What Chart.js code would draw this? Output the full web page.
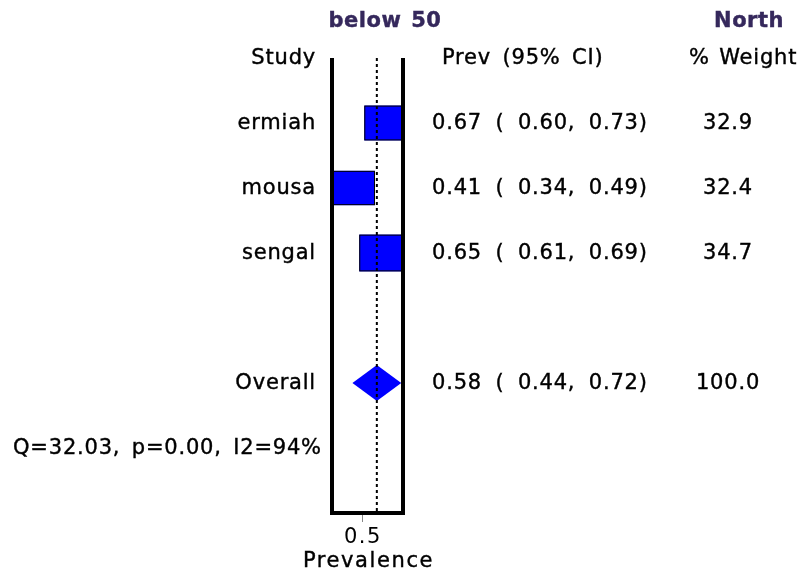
<!DOCTYPE html>
<html>
<head>
<meta charset="utf-8">
<title>below 50 - North</title>
<script src="https://cdn.jsdelivr.net/npm/chart.js@4.4.1/dist/chart.umd.min.js"></script>
<style>
  html, body { margin: 0; padding: 0; background: #fff; }
  #wrap { width: 806px; height: 572px; position: relative; }
</style>
</head>
<body>
<div id="wrap"><canvas id="forest"></canvas></div>
<script>
// /----------- data -----------/
const studies = ['ermiah', 'mousa', 'sengal'];
const prev = [0.67, 0.41, 0.65];
const lower = [0.60, 0.34, 0.61];
const upper = [0.73, 0.49, 0.69];
const weights = [32.9, 32.4, 34.7];
const studyRows = [1, 2, 3];

const overallLabel = 'Overall';
const overallPrev = 0.58;
const overallLower = 0.44;
const overallUpper = 0.72;
const overallWeight = 100.0;
const overallRow = 5;

const qStat = 32.03;
const pValue = 0.00;
const i2 = 94;

const xTicks = [0.5];
const xMin = 0.323;
const xMax = 0.73;
const xTitle = 'Prevalence';

// /----------- look -----------/
const FONT = '"DejaVu Sans"';
const BLUE = '#0000ff';
const HEAD_COLOR = '#35285c';
const fmt = v => v.toFixed(2);

function txt(ctx, s, x, y, align, font, color, ls, ws) {
    ctx.save();
    ctx.font = font;
    ctx.fillStyle = color || '#000';
    ctx.strokeStyle = color || '#000';
    ctx.lineWidth = 0.4;
    ctx.textAlign = align;
    ctx.textBaseline = 'alphabetic';
    ctx.letterSpacing = (ls === undefined ? 0.8 : ls) + 'px';
    ctx.wordSpacing = (ws === undefined ? 4 : ws) + 'px';
    ctx.fillText(s, x, y);
    ctx.strokeText(s, x, y);
    ctx.restore();
}

// /----------- boxes, whiskers, diamond, frame and columns -----------/
const forestMarks = {
    id: 'forestMarks',
    beforeDraw(chart) {
        chart.ctx.letterSpacing = '1.5px';
    },
    beforeDatasetsDraw(chart) {
        const { ctx, chartArea: a, scales: { x, y } } = chart;
        ctx.save();
        ctx.beginPath();
        ctx.rect(a.left, a.top, a.right - a.left, a.bottom - a.top);
        ctx.clip();

        ctx.strokeStyle = '#000';
        ctx.lineWidth = 1;
        studies.forEach((s, i) => {
            const yy = y.getPixelForValue(studyRows[i]);
            ctx.beginPath();
            ctx.moveTo(x.getPixelForValue(lower[i]), yy);
            ctx.lineTo(x.getPixelForValue(upper[i]), yy);
            ctx.stroke();
        });

        studies.forEach((s, i) => {
            const cx = x.getPixelForValue(prev[i]);
            const cy = y.getPixelForValue(studyRows[i]);
            const h = weights[i] * 1.06;
            const w = h * 1.62;
            ctx.fillStyle = BLUE;
            ctx.fillRect(cx - w / 2, cy - h / 2, w, h);
            ctx.strokeRect(cx - w / 2 + 0.5, cy - h / 2 + 0.5, w - 1, h - 1);
        });

        const oy = y.getPixelForValue(overallRow);
        const ox = x.getPixelForValue(overallPrev);
        ctx.beginPath();
        ctx.moveTo(x.getPixelForValue(overallLower), oy);
        ctx.lineTo(ox, oy - 18);
        ctx.lineTo(x.getPixelForValue(overallUpper), oy);
        ctx.lineTo(ox, oy + 18);
        ctx.closePath();
        ctx.fillStyle = BLUE;
        ctx.fill();
        ctx.restore();
    },
    afterDraw(chart) {
        const { ctx, chartArea: a, scales: { y } } = chart;

        // open-top frame
        ctx.save();
        ctx.strokeStyle = '#000';
        ctx.lineWidth = 4;
        ctx.lineJoin = 'miter';
        ctx.beginPath();
        ctx.moveTo(a.left, a.top);
        ctx.lineTo(a.left, a.bottom);
        ctx.lineTo(a.right, a.bottom);
        ctx.lineTo(a.right, a.top);
        ctx.stroke();
        ctx.restore();

        const reg = '21px ' + FONT;
        const bold = 'bold 21px ' + FONT;
        const row = r => y.getPixelForValue(r) + 6;

        txt(ctx, 'below 50', 385, 27, 'center', bold, HEAD_COLOR, 0.5, 2);
        txt(ctx, 'North', 749, 27, 'center', bold, HEAD_COLOR, 0.5, 2);

        txt(ctx, 'Study', 316, row(0), 'right', reg);
        txt(ctx, 'Prev (95% CI)', 442, row(0), 'left', reg);
        txt(ctx, '% Weight', 689, row(0), 'left', reg, '#000', 0.8, 2);

        studies.forEach((s, i) => {
            txt(ctx, s, 316, row(studyRows[i]), 'right', reg);
            txt(ctx, fmt(prev[i]) + ' ( ' + fmt(lower[i]) + ', ' + fmt(upper[i]) + ')', 432, row(studyRows[i]), 'left', reg, '#000', 0.8, 6);
            txt(ctx, weights[i].toFixed(1), 728, row(studyRows[i]), 'center', reg);
        });

        txt(ctx, overallLabel, 316, row(overallRow), 'right', reg);
        txt(ctx, fmt(overallPrev) + ' ( ' + fmt(overallLower) + ', ' + fmt(overallUpper) + ')', 432, row(overallRow), 'left', reg, '#000', 0.8, 6);
        txt(ctx, overallWeight.toFixed(1), 728, row(overallRow), 'center', reg);

        txt(ctx, 'Q=' + qStat.toFixed(2) + ', p=' + pValue.toFixed(2) + ', I2=' + i2 + '%', 13, row(overallRow + 1), 'left', reg);

        // axis title (drawn here so it is not squeezed to the narrow plot width)
        txt(ctx, xTitle, (a.left + a.right) / 2 + 1, 567, 'center', reg, '#000', 1.6, 2);
    }
};

new Chart(document.getElementById('forest'), {
    type: 'scatter',
    data: {
        datasets: [{
            label: 'Prev',
            data: studies.map((s, i) => ({ x: prev[i], y: studyRows[i] })),
            pointRadius: 0,
            showLine: false
        }, {
            type: 'line',
            label: 'Overall',
            data: [{ x: overallPrev, y: 0 }, { x: overallPrev, y: 7 }],
            borderColor: '#000',
            borderWidth: 2,
            borderDash: [3, 3],
            pointRadius: 0,
            fill: false
        }]
    },
    options: {
        responsive: true,
        maintainAspectRatio: false,
        animation: false,
        layout: {
            padding: { left: 332, right: 403, top: 58, bottom: 0 }
        },
        plugins: {
            legend: { display: false },
            tooltip: { enabled: false }
        },
        scales: {
            x: {
                type: 'linear',
                min: xMin,
                max: xMax,
                afterBuildTicks: s => { s.ticks = xTicks.map(v => ({ value: v })); },
                afterFit: s => { s.height = 59; },
                grid: { drawOnChartArea: false, drawTicks: true, tickLength: 9, color: '#888', lineWidth: 1 },
                border: { display: false },
                ticks: {
                    font: { family: FONT, size: 21 },
                    color: '#000',
                    padding: 3,
                    callback: v => String(v)
                },
                title: { display: false }
            },
            y: {
                type: 'linear',
                reverse: true,
                min: 0,
                max: 7,
                display: false
            }
        }
    },
    plugins: [forestMarks]
});
</script>
</body>
</html>
